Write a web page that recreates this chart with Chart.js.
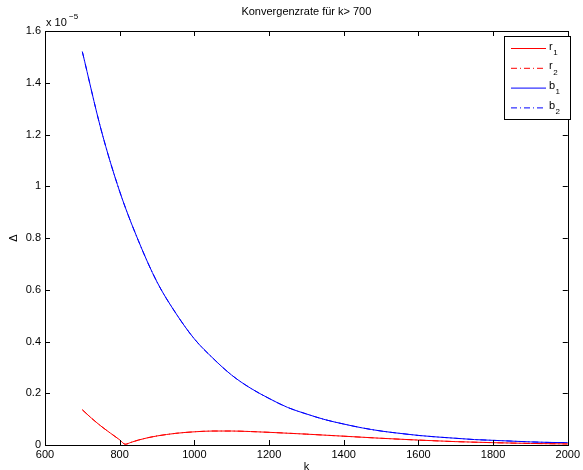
<!DOCTYPE html>
<html>
<head>
<meta charset="utf-8">
<script src="https://cdn.jsdelivr.net/npm/chart.js@4"></script>
<style>
  body { margin: 0; background: #fff; }
  canvas { display: block; }
</style>
</head>
<body>
<canvas id="chart" width="583" height="470"></canvas>
<script>
// Daten (Werte in Einheiten von 1e-5)
const kBlue = [700, 750, 800, 850, 900, 950, 1000, 1050, 1100, 1150, 1200, 1250, 1300, 1350,
               1400, 1450, 1500, 1550, 1600, 1650, 1700, 1750, 1800, 1850, 1900, 1950, 2000];
const b1Values = [1.52, 1.22, 0.98, 0.79, 0.63, 0.51, 0.41, 0.335, 0.27, 0.22, 0.18, 0.145, 0.12, 0.098,
                  0.081, 0.066, 0.054, 0.045, 0.037, 0.031, 0.026, 0.021, 0.018, 0.015, 0.012, 0.010, 0.009];
const b2Values = [1.52, 1.22, 0.98, 0.79, 0.63, 0.51, 0.41, 0.335, 0.27, 0.22, 0.18, 0.145, 0.12, 0.098,
                  0.081, 0.066, 0.054, 0.045, 0.037, 0.031, 0.026, 0.021, 0.018, 0.015, 0.012, 0.010, 0.009];

const kRed = [700, 725, 750, 775, 800, 815, 830, 850, 875, 900, 950, 1000, 1050, 1100,
              1150, 1200, 1300, 1400, 1500, 1600, 1700, 1800, 1900, 2000];
const r1Values = [0.136, 0.103, 0.073, 0.046, 0.020, 0.003, 0.010, 0.019, 0.028, 0.035, 0.045, 0.051, 0.054, 0.054,
                  0.052, 0.049, 0.042, 0.034, 0.026, 0.019, 0.013, 0.009, 0.006, 0.004];
const r2Values = [0.136, 0.103, 0.073, 0.046, 0.020, 0.003, 0.010, 0.019, 0.028, 0.035, 0.045, 0.051, 0.054, 0.054,
                  0.052, 0.049, 0.042, 0.034, 0.026, 0.019, 0.013, 0.009, 0.006, 0.004];

const xTicks = [600, 800, 1000, 1200, 1400, 1600, 1800, 2000];
const yTicks = [0, 0.2, 0.4, 0.6, 0.8, 1, 1.2, 1.4, 1.6];

const legendLabels = [['r', '1'], ['r', '2'], ['b', '1'], ['b', '2']];

const FONT = '"Liberation Sans", Arial, sans-serif';
const dashDot = [6, 3, 1, 3];

function toPoints(xs, ys) {
    return xs.map((x, i) => ({ x: x, y: ys[i] }));
}

// Rahmen, Ticks nach innen, Achsentitel und Legende im Matlab-Stil
const matlabStyle = {
    id: 'matlabStyle',
    afterDraw(chart) {
        const ctx = chart.ctx;
        const a = chart.chartArea;
        const xs = chart.scales.x;
        const ys = chart.scales.y;
        ctx.save();
        ctx.strokeStyle = '#000';
        ctx.lineWidth = 1;
        ctx.strokeRect(Math.round(a.left) + 0.5, Math.round(a.top) + 0.5,
                       Math.round(a.right - a.left), Math.round(a.bottom - a.top));
        ctx.beginPath();
        xTicks.forEach(v => {
            const px = Math.round(xs.getPixelForValue(v)) + 0.5;
            ctx.moveTo(px, a.bottom); ctx.lineTo(px, a.bottom - 5);
            ctx.moveTo(px, a.top); ctx.lineTo(px, a.top + 5);
        });
        yTicks.forEach(v => {
            const py = Math.round(ys.getPixelForValue(v)) + 0.5;
            ctx.moveTo(a.left, py); ctx.lineTo(a.left + 5, py);
            ctx.moveTo(a.right, py); ctx.lineTo(a.right - 5, py);
        });
        ctx.stroke();

        // Titel
        ctx.fillStyle = '#000';
        ctx.font = '11px ' + FONT;
        ctx.textAlign = 'center';
        ctx.textBaseline = 'middle';
        ctx.fillText('Konvergenzrate für k> 700', (a.left + a.right) / 2, 12);

        // x-Label
        ctx.fillText('k', (a.left + a.right) / 2, 467);

        // y-Label
        ctx.save();
        ctx.translate(14, (a.top + a.bottom) / 2);
        ctx.rotate(-Math.PI / 2);
        ctx.fillText('\u0394', 0, 0);
        ctx.restore();

        // Exponent
        ctx.textAlign = 'left';
        ctx.fillText('x 10', a.left + 1, 23);
        ctx.font = '8px ' + FONT;
        ctx.fillText('\u22125', a.left + 24, 17);

        // Legende
        const bx = 504.5, by = 36.5, bw = 66, bh = 83;
        ctx.fillStyle = '#fff';
        ctx.fillRect(bx, by, bw, bh);
        ctx.strokeStyle = '#000';
        ctx.strokeRect(bx, by, bw, bh);
        chart.data.datasets.forEach((ds, i) => {
            const y = 48.5 + i * 19.8;
            ctx.save();
            ctx.strokeStyle = ds.borderColor;
            ctx.lineWidth = 1;
            ctx.setLineDash(ds.borderDash || []);
            ctx.beginPath();
            ctx.moveTo(511, y);
            ctx.lineTo(546, y);
            ctx.stroke();
            ctx.restore();
            ctx.fillStyle = '#000';
            ctx.textAlign = 'left';
            ctx.font = '11px ' + FONT;
            ctx.fillText(legendLabels[i][0], 549, y - 2);
            const w = ctx.measureText(legendLabels[i][0]).width;
            ctx.font = '8px ' + FONT;
            ctx.fillText(legendLabels[i][1], 549 + w + 0.5, y + 4);
        });
        ctx.restore();
    }
};

const ctx = document.getElementById('chart').getContext('2d');
new Chart(ctx, {
    type: 'line',
    data: {
        datasets: [
            { label: 'r1', data: toPoints(kRed, r1Values), borderColor: '#ff0000', borderWidth: 1 },
            { label: 'r2', data: toPoints(kRed, r2Values), borderColor: '#ff0000', borderWidth: 1, borderDash: dashDot },
            { label: 'b1', data: toPoints(kBlue, b1Values), borderColor: '#0000ff', borderWidth: 1 },
            { label: 'b2', data: toPoints(kBlue, b2Values), borderColor: '#0000ff', borderWidth: 1, borderDash: dashDot }
        ]
    },
    options: {
        responsive: false,
        animation: false,
        layout: { padding: { top: 31, right: 11, left: 0, bottom: 0 } },
        elements: { point: { radius: 0 }, line: { tension: 0.3, cubicInterpolationMode: 'monotone' } },
        plugins: { legend: { display: false }, tooltip: { enabled: false }, title: { display: false } },
        scales: {
            x: {
                type: 'linear',
                min: 600, max: 2000,
                afterFit: s => { s.height = 25; },
                afterBuildTicks: s => { s.ticks = xTicks.map(v => ({ value: v })); },
                grid: { display: false, drawTicks: false },
                border: { display: false },
                ticks: { color: '#000', font: { family: FONT, size: 11 }, padding: 3, maxRotation: 0,
                         callback: v => String(v) }
            },
            y: {
                min: 0, max: 1.6,
                afterFit: s => { s.width = 45; },
                afterBuildTicks: s => { s.ticks = yTicks.map(v => ({ value: v })); },
                grid: { display: false, drawTicks: false },
                border: { display: false },
                ticks: { color: '#000', font: { family: FONT, size: 11 }, padding: 4,
                         callback: v => String(Math.round(v * 10) / 10) }
            }
        }
    },
    plugins: [matlabStyle]
});
</script>
</body>
</html>
